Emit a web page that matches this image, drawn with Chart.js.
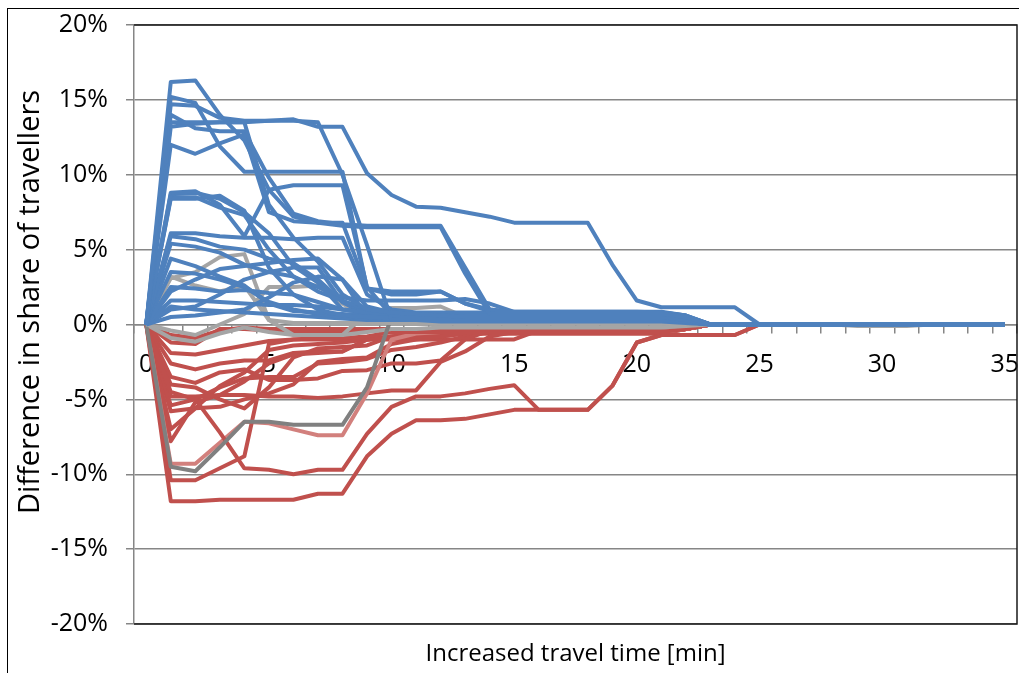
<!DOCTYPE html>
<html>
<head>
<meta charset="utf-8">
<script src="https://cdn.jsdelivr.net/npm/chart.js@4.4.0/dist/chart.umd.min.js"></script>
<style>
  html, body { margin: 0; padding: 0; background: #ffffff; }
  canvas { display: block; }
</style>
</head>
<body>
<canvas id="c" width="1019" height="673"></canvas>
<script>
// ---------- categories / tick labels ----------
const categories = ['0','1','2','3','4','5','6','7','8','9','10','11','12','13','14','15','16','17',
  '18','19','20','21','22','23','24','25','26','27','28','29','30','31','32','33','34','35'];
const xTitle = 'Increased travel time [min]';
const yTitle = 'Difference in share of travellers';
const yTicks = [-20, -15, -10, -5, 0, 5, 10, 15, 20];

// ---------- blue series (share gained) ----------
const blue01 = [0,16.2,16.3,14.0,12.3,9.0,7.2,6.8,6.6,6.5,6.5,6.5,
  6.5,3.4,0.7,0.7,0.7,0.7,0.7,0.7,0.7,0.7,0.5,0,
  0,0,0,0,0,0,0,0,0,0,0,0];
const blue02 = [0,14.7,14.6,13.8,13.6,13.6,13.7,13.2,13.2,10.1,8.65,7.87,
  7.8,7.5,7.2,6.8,6.8,6.8,6.8,4.0,1.6,1.15,1.15,1.15,
  1.15,0,0,0,0,0,0,0,0,0,0,0];
const blue03 = [0,15.2,14.8,11.9,10.2,10.2,10.2,10.2,10.2,2.4,2.0,2.0,
  2.2,1.4,1.0,0.85,0.85,0.85,0.85,0.85,0.85,0.8,0.6,0,
  0,0,0,0,0,0,0,0,0,0,0,0];
const blue04 = [0,13.5,13.5,13.5,13.5,8.0,5.8,4.2,2.0,1.0,0.8,0.7,
  0.6,0.5,0.5,0.5,0.5,0.5,0.5,0.5,0.5,0.5,0.3,0,
  0,0,0,0,0,0,0,0,0,0,0,0];
const blue05 = [0,13.2,13.4,13.5,13.5,13.6,13.6,13.5,10.0,5.3,0.3,0.3,
  0.3,0.3,0.3,0.3,0.3,0.3,0.3,0.3,0.3,0.3,0.2,0,
  0,0,0,0,0,0,0,0,0,0,0,0];
const blue06 = [0,12.0,11.4,12.1,12.7,7.5,6.9,6.8,6.8,2.4,2.2,2.2,
  2.2,1.4,0.9,0.75,0.75,0.75,0.75,0.75,0.75,0.75,0.5,0,
  0,0,0,0,0,0,0,0,0,0,0,0];
const blue07 = [0,14.0,13.1,12.9,12.9,9.8,7.4,6.9,6.7,6.6,6.6,6.6,
  6.6,3.8,1.0,0.8,0.8,0.8,0.8,0.8,0.8,0.8,0.6,0,
  0,0,0,0,0,0,0,0,0,0,0,0];
const blue08 = [0,8.8,8.9,8.0,5.9,9.0,9.3,9.3,9.3,2.5,0.6,0.5,
  0.5,0.5,0.4,0.4,0.4,0.4,0.4,0.4,0.4,0.4,0.3,0,
  0,0,0,0,0,0,0,0,0,0,0,0];
const blue09 = [0,8.7,8.8,8.4,7.5,6.1,3.9,2.8,1.0,0.8,0.7,0.6,
  0.6,0.6,0.6,0.6,0.6,0.6,0.6,0.6,0.6,0.6,0.4,0,
  0,0,0,0,0,0,0,0,0,0,0,0];
const blue10 = [0,8.5,8.5,7.8,7.3,5.0,3.2,2.2,1.6,1.0,0.8,0.7,
  0.7,0.7,0.7,0.7,0.7,0.7,0.7,0.7,0.7,0.7,0.5,0,
  0,0,0,0,0,0,0,0,0,0,0,0];
const blue11 = [0,8.4,8.4,8.6,7.6,3.8,2.0,1.0,0.6,0.5,0.5,0.5,
  0.5,0.5,0.5,0.5,0.5,0.5,0.5,0.5,0.5,0.5,0.3,0,
  0,0,0,0,0,0,0,0,0,0,0,0];
const blue12 = [0,6.1,6.1,5.9,5.8,5.8,5.7,5.8,5.8,2.0,1.0,0.8,
  0.8,0.8,0.8,0.8,0.8,0.8,0.8,0.8,0.8,0.8,0.5,0,
  0,0,0,0,0,0,0,0,0,0,0,0];
const blue13 = [0,5.9,5.7,5.2,5.0,4.4,4.1,3.0,1.5,0.8,0.6,0.5,
  0.5,0.5,0.5,0.5,0.5,0.5,0.5,0.5,0.5,0.5,0.3,0,
  0,0,0,0,0,0,0,0,0,0,0,0];
const blue14 = [0,5.4,5.2,4.8,4.0,3.5,3.2,2.5,1.8,1.6,1.6,1.6,
  1.6,1.7,1.4,0.85,0.85,0.85,0.85,0.85,0.85,0.85,0.6,0,
  0,0,0,0,0,0,0,0,0,0,0,0];
const blue15 = [0,4.4,3.9,3.2,2.6,1.4,0.9,0.8,0.7,0.6,0.5,0.5,
  0.4,0.4,0.4,0.4,0.4,0.4,0.4,0.4,0.4,0.4,0.2,0,
  0,0,0,0,0,0,0,0,0,0,0,0];
const blue16 = [0,2.5,2.4,2.2,2.3,2.1,2.0,1.5,1.0,0.8,0.6,0.5,
  0.5,0.5,0.5,0.5,0.5,0.5,0.5,0.5,0.5,0.5,0.3,0,
  0,0,0,0,0,0,0,0,0,0,0,0];
const blue17 = [0,1.6,1.6,1.5,1.4,1.3,1.3,1.2,1.0,0.8,0.6,0.5,
  0.4,0.4,0.4,0.4,0.4,0.4,0.4,0.4,0.4,0.4,0.2,0,
  0,0,0,0,0,0,0,0,0,0,0,0];
const blue18 = [0,2.2,3.0,3.7,3.9,4.1,4.3,4.4,3.0,1.2,0.8,0.7,
  0.7,0.7,0.7,0.7,0.7,0.7,0.7,0.7,0.7,0.7,0.4,0,
  0,0,0,0,0,0,0,0,0,0,0,0];
const blue19 = [0,1.0,1.2,2.0,3.0,3.5,3.8,3.8,1.5,0.6,0.5,0.5,
  0.5,0.5,0.5,0.5,0.5,0.5,0.5,0.5,0.5,0.5,0.3,0,
  0,0,0,0,0,0,0,0,0,0,0,0];
const blue20 = [0,0.5,0.6,0.8,1.0,1.8,2.8,3.2,3.0,0.5,0.4,0.4,
  0.4,0.4,0.4,0.4,0.4,0.4,0.4,0.4,0.4,0.4,0.2,0,
  0,0,0,0,0,0,0,0,0,0,0,0];
const blue21 = [0,3.5,3.4,3.0,2.5,1.5,1.0,0.7,0.5,0.4,0.4,0.4,
  0.3,0.3,0.3,0.3,0.3,0.3,0.3,0.3,0.3,0.3,0.2,0,
  0,0,0,0,0,0,0,0,0,0,0,0];
const blue22 = [0,1.2,1.0,0.9,0.8,0.7,0.6,0.5,0.4,0.3,0.3,0.3,
  0.2,0.2,0.2,0.2,0.2,0.2,0.2,0.2,0.2,0.2,0.1,0,
  0,0,0,0,0,0,0,0,0,0,0,0];

// ---------- gray series ----------
const gray01 = [0,3.1,3.5,4.5,4.7,0.3,0.1,0.1,0.1,0.1,0.1,0.1,
  0.1,0.1,0.1,0.1,0.1,0.1,0.1,0.1,0.1,0.1,0.1,0,
  0,0,0,0,0,0,0,0,0,0,0,0];
const gray02 = [0,3.2,2.6,2.2,2.6,0.3,-0.7,-0.7,-0.7,0.8,1.1,1.1,
  1.2,0.5,0.4,0.3,0.3,0.2,0.2,0.2,0.2,0.2,0.1,0,
  0,0,0,0,0,0,0,0,0,0,0,0];
const gray03 = [0,-0.4,-0.7,0.0,0.7,2.5,2.5,2.6,1.4,0.4,0.3,0.3,
  0.2,0.2,0.2,0.2,0.2,0.2,0.2,0.2,0.2,0.2,0.1,0,
  0,0,0,0,0,0,0,0,0,0,0,0];
const gray04 = [0,-9.5,-9.8,-8.2,-6.5,-6.5,-6.7,-6.7,-6.7,-4.2,0.5,0.75,
  0.75,0.6,0.3,0.1,0.1,0.1,0.1,0.1,0.1,0.1,0.1,0,
  0,0,0,0,0,0,0,0,0,0,0,0];
const gray05 = [0,-0.9,-1.15,-0.6,-0.2,-0.5,-0.7,-0.7,-0.7,-0.5,-0.3,-0.3,
  -0.2,-0.2,-0.2,-0.2,-0.2,-0.2,-0.2,-0.2,-0.2,-0.2,-0.1,0,
  0,0,0,0,0,-0.1,-0.1,-0.1,0,0,0,0];

// ---------- red series (share lost) ----------
const red01 = [0,-11.8,-11.8,-11.7,-11.7,-11.7,-11.7,-11.3,-11.3,-8.8,-7.3,-6.4,
  -6.4,-6.3,-6.0,-5.7,-5.7,-5.7,-5.7,-4.1,-1.2,-0.7,-0.7,-0.7,
  -0.7,0,0,0,0,0,0,0,0,0,0,0];
const red02 = [0,-4.5,-5.0,-7.2,-9.6,-9.7,-10.0,-9.7,-9.7,-7.3,-5.5,-4.8,
  -4.8,-4.6,-4.3,-4.05,-5.7,-5.7,-5.7,-4.1,-1.2,-0.7,-0.7,-0.7,
  -0.7,0,0,0,0,0,0,0,0,0,0,0];
const red03 = [0,-10.4,-10.4,-9.6,-8.8,-1.3,-1.0,-0.9,-0.9,-0.8,-0.5,-0.5,
  -0.5,-0.5,-0.5,-0.5,-0.5,-0.5,-0.5,-0.5,-0.5,-0.5,-0.3,0,
  0,0,0,0,0,0,0,0,0,0,0,0];
const red04 = [0,-9.3,-9.3,-7.9,-6.5,-6.6,-7.0,-7.4,-7.4,-4.6,-1.0,-0.6,
  -0.5,-0.5,-0.5,-0.5,-0.5,-0.5,-0.5,-0.5,-0.5,-0.5,-0.3,0,
  0,0,0,0,0,0,0,0,0,0,0,0];
const red05 = [0,-4.8,-4.8,-4.7,-4.7,-4.8,-4.8,-4.9,-4.8,-4.6,-4.4,-4.4,
  -2.5,-1.8,-0.8,-0.5,-0.5,-0.5,-0.5,-0.5,-0.5,-0.5,-0.3,0,
  0,0,0,0,0,0,0,0,0,0,0,0];
const red06 = [0,-3.5,-3.9,-3.2,-3.0,-3.7,-3.7,-3.6,-3.1,-3.05,-2.6,-2.6,
  -2.4,-1.0,-0.4,-0.4,-0.4,-0.4,-0.4,-0.4,-0.4,-0.4,-0.3,0,
  0,0,0,0,0,0,0,0,0,0,0,0];
const red07 = [0,-5.4,-5.0,-4.2,-3.6,-3.5,-3.5,-2.6,-2.5,-2.3,-1.7,-1.5,
  -1.2,-0.8,-0.5,-0.5,-0.5,-0.5,-0.5,-0.5,-0.5,-0.5,-0.3,0,
  0,0,0,0,0,0,0,0,0,0,0,0];
const red08 = [0,-7.8,-5.2,-4.7,-3.8,-2.6,-2.0,-1.9,-1.8,-1.0,-0.9,-0.8,
  -0.8,-0.6,-0.5,-0.5,-0.5,-0.5,-0.5,-0.5,-0.5,-0.5,-0.3,0,
  0,0,0,0,0,0,0,0,0,0,0,0];
const red09 = [0,-7.0,-5.6,-5.5,-5.0,-4.6,-4.0,-2.5,-2.3,-2.2,-1.3,-1.0,
  -0.8,-0.6,-0.5,-0.5,-0.5,-0.5,-0.5,-0.5,-0.5,-0.5,-0.3,0,
  0,0,0,0,0,0,0,0,0,0,0,0];
const red10 = [0,-1.9,-2.0,-1.7,-1.4,-1.1,-1.0,-1.0,-1.0,-1.0,-1.0,-1.0,
  -1.0,-1.0,-1.0,-1.0,-0.4,-0.4,-0.4,-0.4,-0.4,-0.4,-0.3,0,
  0,0,0,0,0,0,0,0,0,0,0,0];
const red11 = [0,-1.2,-1.3,-0.3,-0.3,-0.4,-0.5,-0.5,-0.5,-0.4,-0.4,-0.4,
  -0.4,-0.4,-0.4,-0.4,-0.4,-0.4,-0.4,-0.4,-0.4,-0.4,-0.2,0,
  0,0,0,0,0,0,0,0,0,0,0,0];
const red12 = [0,-2.6,-3.0,-2.6,-2.4,-2.4,-1.9,-1.8,-1.8,-1.0,-0.8,-0.7,
  -0.6,-0.6,-0.6,-0.6,-0.6,-0.6,-0.6,-0.6,-0.6,-0.6,-0.3,0,
  0,0,0,0,0,0,0,0,0,0,0,0];
const red13 = [0,-5.8,-5.6,-4.1,-3.2,-1.7,-1.4,-1.3,-1.2,-1.0,-0.8,-0.7,
  -0.6,-0.6,-0.6,-0.6,-0.6,-0.6,-0.6,-0.6,-0.6,-0.6,-0.3,0,
  0,0,0,0,0,0,0,0,0,0,0,0];
const red14 = [0,-4.0,-4.2,-5.0,-5.6,-4.2,-2.2,-1.6,-1.5,-1.4,-0.8,-0.6,
  -0.5,-0.5,-0.5,-0.5,-0.5,-0.5,-0.5,-0.5,-0.5,-0.5,-0.3,0,
  0,0,0,0,0,0,0,0,0,0,0,0];
const red15 = [0,-0.7,-0.9,-0.4,-0.2,-0.3,-0.3,-0.3,-0.3,-0.3,-0.3,-0.3,
  -0.3,-0.3,-0.3,-0.3,-0.3,-0.3,-0.3,-0.3,-0.3,-0.3,-0.2,0,
  0,0,0,0,0,0,0,0,0,0,0,0];

const blueSeries = [blue01,blue02,blue03,blue04,blue05,blue06,blue07,blue08,blue09,blue10,blue11,
  blue12,blue13,blue14,blue15,blue16,blue17,blue18,blue19,blue20,blue21,blue22];
const graySeries = [gray01,gray02,gray03,gray04,gray05];
const grayColors = ['#A5A5A5','#A5A5A5','#A5A5A5','#808080','#A5A5A5'];
const redSeries = [red01,red02,red03,red04,red05,red06,red07,red08,red09,red10,red11,red12,red13,red14,red15];
const redColors = ['#C0504D','#C0504D','#C0504D','#D2807D','#C0504D','#C0504D','#C0504D','#C0504D',
  '#C0504D','#C0504D','#C0504D','#C0504D','#C0504D','#C0504D','#C0504D'];

const BLUE = '#4F81BD';
const FONT = '"Open Sans", "Liberation Sans", sans-serif';

const datasets = [];
blueSeries.forEach(d => datasets.push({ data: d, borderColor: BLUE }));
graySeries.forEach((d, i) => datasets.push({ data: d, borderColor: grayColors[i] }));
redSeries.forEach((d, i) => datasets.push({ data: d, borderColor: redColors[i] }));

const framePlugin = {
  id: 'frame',
  afterDraw(chart) {
    const ctx = chart.ctx;
    const a = chart.chartArea;
    ctx.save();
    // outer chart border
    ctx.strokeStyle = '#000';
    ctx.lineWidth = 1;
    ctx.strokeRect(7.5, 8.5, 1400, 1000);
    // plot area border (top, right, bottom)
    ctx.strokeStyle = '#1a1a1a';
    ctx.lineWidth = 1.5;
    ctx.beginPath();
    ctx.moveTo(a.left, a.top);
    ctx.lineTo(a.right, a.top);
    ctx.lineTo(a.right, a.bottom);
    ctx.lineTo(a.left, a.bottom);
    ctx.stroke();
    // axis titles
    ctx.fillStyle = '#000';
    ctx.textAlign = 'center';
    ctx.textBaseline = 'middle';
    ctx.font = '24px ' + FONT;
    ctx.fillText(xTitle, (a.left + a.right) / 2, 654);
    ctx.translate(31, 302);
    ctx.rotate(-Math.PI / 2);
    ctx.font = '29px ' + FONT;
    ctx.fillText(yTitle, 0, 0);
    ctx.restore();
  }
};

new Chart(document.getElementById('c'), {
  type: 'line',
  data: { labels: categories, datasets: datasets },
  options: {
    responsive: false,
    animation: false,
    layout: { padding: { left: 0, right: 2, top: 25, bottom: 49 } },
    plugins: { legend: { display: false }, tooltip: { enabled: false } },
    elements: {
      point: { radius: 0, hoverRadius: 0 },
      line: { borderWidth: 4, tension: 0, fill: false, borderJoinStyle: 'round' }
    },
    scales: {
      x: {
        type: 'category',
        position: { y: 0 },
        offset: true,
        afterFit: s => { s.paddingLeft = 0; s.paddingRight = 0; s.paddingTop = 0; s.paddingBottom = 0; },
        grid: { drawOnChartArea: false, drawTicks: true, tickLength: 8, color: '#868686', lineWidth: 1.5, offset: true },
        border: { display: true, color: '#868686', width: 1.5 },
        ticks: {
          autoSkip: false, maxRotation: 0, minRotation: 0, padding: 17, color: '#000',
          font: { family: FONT, size: 25 },
          callback: (v, i) => (i % 5 === 0 ? categories[i] : '')
        }
      },
      y: {
        min: yTicks[0], max: yTicks[yTicks.length - 1],
        afterBuildTicks: s => { s.ticks = yTicks.map(v => ({ value: v })); },
        afterFit: s => { s.width = 134; s.paddingTop = 0; s.paddingBottom = 0; s.paddingLeft = 0; s.paddingRight = 0; },
        grid: { color: '#868686', lineWidth: 1.5, tickLength: 8 },
        border: { display: true, color: '#868686', width: 1.5 },
        ticks: { padding: 18, color: '#000', font: { family: FONT, size: 25 }, callback: v => v + '%' }
      }
    }
  },
  plugins: [framePlugin]
});
</script>
</body>
</html>
